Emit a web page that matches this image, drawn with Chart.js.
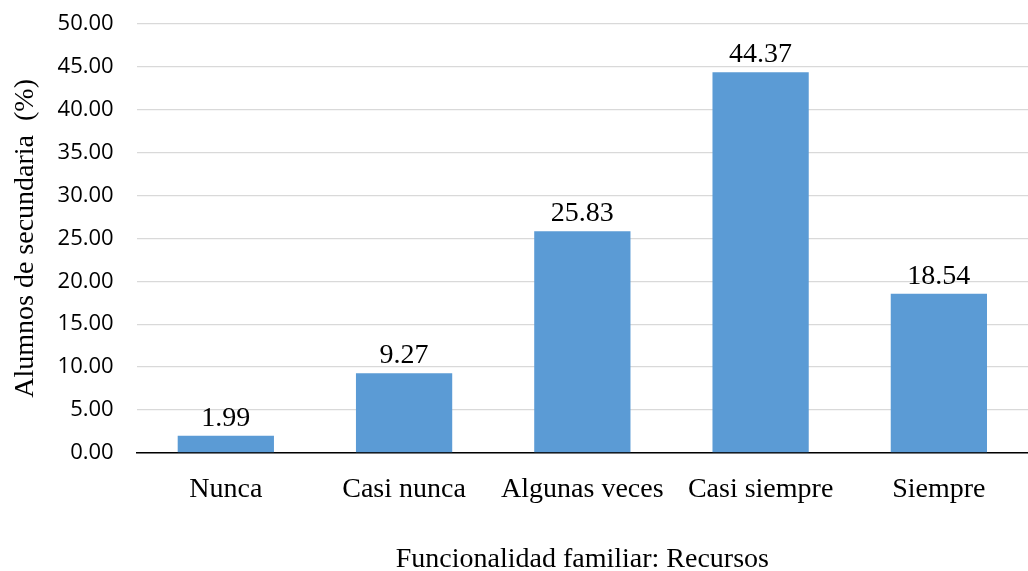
<!DOCTYPE html>
<html>
<head>
<meta charset="utf-8">
<script src="https://cdn.jsdelivr.net/npm/chart.js@4"></script>
<style>
  html, body { margin: 0; padding: 0; background: #fff; }
  #wrap { width: 1028px; height: 571px; }
</style>
</head>
<body>
<div id="wrap"><canvas id="chart"></canvas></div>
<script>
// Funcionalidad familiar: Recursos
const categories = ['Nunca', 'Casi nunca', 'Algunas veces', 'Casi siempre', 'Siempre'];
const percentages = [1.99, 9.27, 25.83, 44.37, 18.54];

// draws the value above each bar
const barLabels = {
    id: 'barLabels',
    afterDatasetsDraw(chart) {
        const ctx = chart.ctx;
        const meta = chart.getDatasetMeta(0);
        ctx.save();
        ctx.font = '28px "Liberation Serif"';
        ctx.fillStyle = '#000';
        ctx.textAlign = 'center';
        ctx.textBaseline = 'alphabetic';
        meta.data.forEach((bar, i) => {
            ctx.fillText(percentages[i].toFixed(2), bar.x, bar.y - 10);
        });
        ctx.restore();
    }
};

new Chart(document.getElementById('chart'), {
    type: 'bar',
    data: {
        labels: categories,
        datasets: [{
            data: percentages,
            backgroundColor: '#5b9bd5',
            categoryPercentage: 1,
            barPercentage: 0.54
        }]
    },
    options: {
        responsive: true,
        maintainAspectRatio: false,
        animation: false,
        layout: { padding: { top: 24, right: 0, left: 0, bottom: -5 } },
        plugins: {
            legend: { display: false },
            tooltip: { enabled: false }
        },
        scales: {
            x: {
                grid: { display: false, drawTicks: false },
                border: { color: '#000', width: 1.5 },
                ticks: {
                    color: '#000',
                    font: { family: 'Liberation Serif', size: 28 },
                    padding: 20
                },
                title: {
                    display: true,
                    text: 'Funcionalidad familiar: Recursos',
                    color: '#000',
                    font: { family: 'Liberation Serif', size: 28 },
                    padding: { top: 16, bottom: 0 }
                }
            },
            y: {
                min: 0,
                max: 50,
                afterFit: scale => { scale.paddingTop = 0; },
                grid: { color: '#d9d9d9', lineWidth: 1.3, drawTicks: false },
                border: { display: false },
                ticks: {
                    stepSize: 5,
                    color: '#000',
                    font: { family: 'Open Sans', size: 22 },
                    padding: 23,
                    callback: v => v.toFixed(2)
                },
                title: {
                    display: true,
                    text: 'Alumnos de secundaria  (%)',
                    color: '#000',
                    font: { family: 'Liberation Serif', size: 28 },
                    padding: { top: 9, bottom: -8 }
                }
            }
        }
    },
    plugins: [barLabels]
});
</script>
</body>
</html>
